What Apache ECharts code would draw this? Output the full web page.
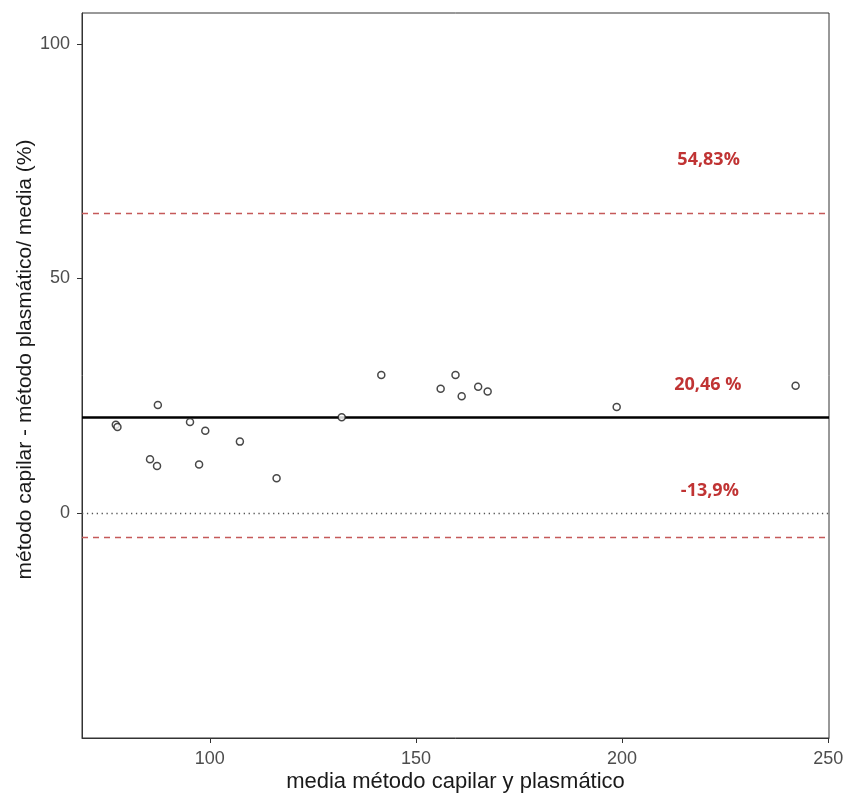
<!DOCTYPE html>
<html>
<head>
<meta charset="utf-8">
<script src="https://cdn.jsdelivr.net/npm/echarts@6/dist/echarts.min.js"></script>
<style>html,body{margin:0;padding:0;background:#fff}#c{width:845px;height:795px}</style>
</head>
<body>
<div id="c"></div>
<script>
// Data
const meanX = [77.2, 77.6, 87.4, 95.2, 98.9, 107.3, 85.5, 87.2, 97.4, 116.2, 132.0, 141.6, 159.6, 156.0, 161.1, 165.1, 167.4, 198.7, 242.1];
const diffY = [18.8, 18.3, 23.0, 19.4, 17.5, 15.2, 11.45, 10.0, 10.3, 7.4, 20.4, 29.4, 29.4, 26.5, 24.9, 26.9, 25.9, 22.6, 27.1];
const meanLine = 20.46;
const upperLimit = 64.0;
const lowerLimit = -5.2;
const zeroLine = 0;
const xTicks = [100, 150, 200, 250];
const yTicks = [0, 50, 100];
const annoText = ['54,83%', '20,46 %', '-13,9%'];
const annoX = [221.0, 220.8, 221.3];
const annoY = [75.3, 27.3, 4.7];

const points = meanX.map((x, i) => [x, diffY[i]]);
const annos = annoText.map((t, i) => ({ value: [annoX[i], annoY[i]], name: t }));

const chart = echarts.init(document.getElementById('c'), null, { renderer: 'canvas' });
chart.setOption({
  animation: false,
  backgroundColor: '#fff',
  grid: { left: 82, right: 16, top: 13, bottom: 57, outerBoundsMode: 'none', containLabel: false, show: true, borderColor: '#333', borderWidth: 1, backgroundColor: 'transparent' },
  xAxis: {
    type: 'value', min: 69, max: 250.2,
    name: 'media método capilar y plasmático', nameLocation: 'middle', nameGap: 33, nameMoveOverlap: false,
    nameTextStyle: { fontFamily: 'Liberation Sans', fontSize: 22, color: '#1a1a1a' },
    axisLine: { show: true, onZero: false, lineStyle: { color: '#333', width: 1 } },
    axisTick: { show: true, length: 5, lineStyle: { color: '#333' }, customValues: xTicks },
    axisLabel: { fontFamily: 'Liberation Sans', fontSize: 18, color: '#4d4d4d', margin: 12, customValues: xTicks },
    splitLine: { show: false }
  },
  yAxis: {
    type: 'value', min: -48, max: 106.6,
    name: 'método capilar - método plasmático/ media (%)', nameLocation: 'middle', nameGap: 46, nameRotate: 90, nameMoveOverlap: false,
    nameTextStyle: { fontFamily: 'Liberation Sans', fontSize: 21, color: '#1a1a1a', padding: [0, 0, 0, 32] },
    axisLine: { show: true, onZero: false, lineStyle: { color: '#333', width: 1 } },
    axisTick: { show: true, length: 5, lineStyle: { color: '#333' }, customValues: yTicks },
    axisLabel: { fontFamily: 'Liberation Sans', fontSize: 18, color: '#4d4d4d', margin: 12, customValues: yTicks },
    splitLine: { show: false }
  },
  series: [
    {
      type: 'scatter', data: [], silent: true,
      markLine: {
        silent: true, symbol: 'none', label: { show: false },
        data: [
          { yAxis: zeroLine, lineStyle: { color: '#555', width: 1.3, type: [1.3, 3.6] } },
          { yAxis: upperLimit, lineStyle: { color: '#c55a5a', width: 1.4, type: [6, 5] } },
          { yAxis: lowerLimit, lineStyle: { color: '#c55a5a', width: 1.4, type: [6, 5] } },
          { yAxis: meanLine, lineStyle: { color: '#000', width: 2.6, type: 'solid' } }
        ]
      },
      markArea: {
        silent: true,
        itemStyle: { color: 'rgba(255,255,255,0.7)' },
        data: [[{ coord: [202.2, -1.5] }, { coord: [233.7, 1.5] }]]
      }
    },
    {
      type: 'scatter', data: points, symbol: 'circle', symbolSize: 7, silent: true, z: 5,
      itemStyle: { color: '#fff', borderColor: '#1a1a1a', borderWidth: 1.5 }
    },
    {
      type: 'scatter', data: annos, symbolSize: 0, silent: true, z: 6,
      label: {
        show: true, position: 'inside', formatter: p => p.name,
        fontFamily: 'Open Sans', fontWeight: 'bold', fontSize: 18, color: '#b00000'
      }
    }
  ]
});
</script>
</body>
</html>
